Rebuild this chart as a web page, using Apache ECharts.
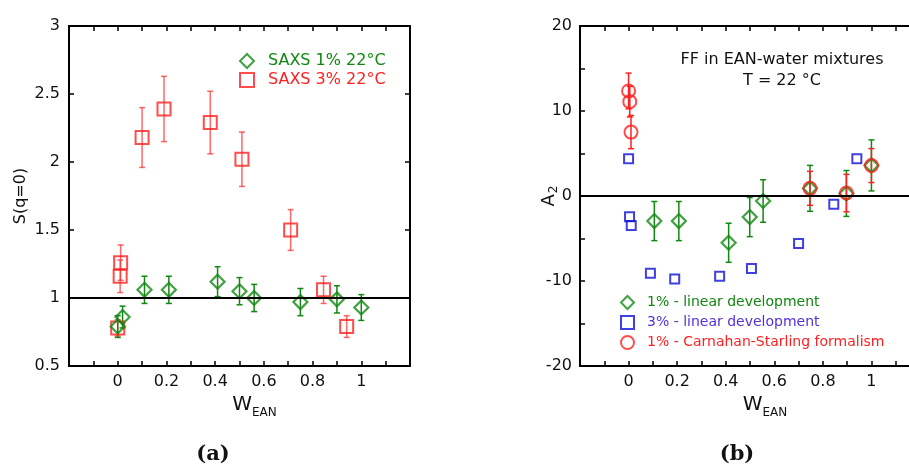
<!DOCTYPE html>
<html><head><meta charset="utf-8">
<script src="https://cdn.jsdelivr.net/npm/echarts@6/dist/echarts.min.js"></script>
<style>html,body{margin:0;padding:0;background:#fff}#c{width:909px;height:467px}</style>
</head><body><div id="c"></div>
<script>
// ---- Panel (a): S(q=0) vs W_EAN ----
const xTicks = [0, 0.2, 0.4, 0.6, 0.8, 1];
const saxs1W = [0.00, 0.02, 0.11, 0.21, 0.41, 0.50, 0.56, 0.75, 0.90, 1.00];
const saxs1S = [0.79, 0.86, 1.06, 1.06, 1.12, 1.05, 1.00, 0.97, 0.99, 0.93];
const saxs1E = [0.08, 0.08, 0.10, 0.10, 0.11, 0.10, 0.10, 0.10, 0.10, 0.095];
const saxs3W = [0.00, 0.01, 0.012, 0.10, 0.19, 0.38, 0.51, 0.71, 0.845, 0.94];
const saxs3S = [0.78, 1.16, 1.26, 2.18, 2.39, 2.29, 2.02, 1.50, 1.06, 0.79];
const saxs3E = [0.06, 0.12, 0.13, 0.22, 0.24, 0.23, 0.20, 0.15, 0.10, 0.08];

// ---- Panel (b): A2 vs W_EAN ----
const lin1W = [0.106, 0.207, 0.412, 0.499, 0.554, 0.747, 0.897, 1.00];
const lin1A = [-2.95, -2.95, -5.5, -2.48, -0.59, 0.9, 0.3, 3.6];
const lin1E = [2.3, 2.3, 2.3, 2.3, 2.5, 2.7, 2.7, 3.0];
const lin3W = [0.00, 0.004, 0.011, 0.09, 0.19, 0.375, 0.506, 0.70, 0.845, 0.94];
const lin3A = [4.37, -2.44, -3.46, -9.1, -9.76, -9.45, -8.54, -5.6, -0.98, 4.37];
const csW = [0.00, 0.005, 0.01, 0.747, 0.897, 1.00];
const csA = [12.36, 11.1, 7.52, 0.9, 0.35, 3.58];
const csE = [2.1, 1.8, 1.95, 2.0, 2.2, 2.0];

const GREEN = '#118811', RED = '#ff1f1f', BLUE = '#1010d8', BLUETXT = '#5530e0';
const FONT = 'DejaVu Sans';

function pts(W, V) { return W.map((w, i) => [w, V[i]]); }
function errSeries(xi, yi, W, V, E, color) {
  return {
    type: 'custom', xAxisIndex: xi, yAxisIndex: yi, silent: true, z: 1,
    data: W.map((w, i) => [w, V[i] - E[i], V[i] + E[i]]),
    encode: { x: 0, y: [1, 2] },
    renderItem: (params, api) => {
      const lo = api.coord([api.value(0), api.value(1)]);
      const hi = api.coord([api.value(0), api.value(2)]);
      const st = { stroke: color, lineWidth: 1.5 };
      const c = 3;
      return { type: 'group', children: [
        { type: 'line', shape: { x1: lo[0], y1: lo[1], x2: hi[0], y2: hi[1] }, style: st },
        { type: 'line', shape: { x1: lo[0] - c, y1: lo[1], x2: lo[0] + c, y2: lo[1] }, style: st },
        { type: 'line', shape: { x1: hi[0] - c, y1: hi[1], x2: hi[0] + c, y2: hi[1] }, style: st }
      ]};
    }
  };
}
function xLabel(v) {
  const r = Math.round(v * 10) / 10;
  return xTicks.some(t => Math.abs(t - r) < 1e-9) ? String(r) : '';
}
const axLine = { show: true, onZero: false, lineStyle: { color: '#000', width: 2 } };
const tick = { show: true, inside: true, length: 5, lineStyle: { color: '#000', width: 1.5 } };
const lbl = { color: '#111', fontFamily: FONT, fontSize: 16 };
function xAx(grid, pos, show) {
  return { type: 'value', gridIndex: grid, position: pos, min: -0.2, max: 1.2, interval: 0.1,
    axisLine: axLine, axisTick: tick, splitLine: { show: false },
    axisLabel: show ? Object.assign({ margin: 8, formatter: xLabel }, lbl) : { show: false },
    name: show ? '{w|W}{s|EAN}' : '', nameLocation: 'middle', nameGap: 21,
    nameTextStyle: { padding: [0, 0, 0, 30], rich: { w: { fontSize: 20, fontFamily: FONT, color: '#111' },
      s: { fontSize: 12, fontFamily: FONT, color: '#111', padding: [16, 0, 0, 0] } } } };
}
const subRich = { a: { fontSize: 18, fontFamily: FONT, color: '#111' }, s: { fontSize: 12, fontFamily: FONT, color: '#111', padding: [10, 0, 0, 1] } };

const option = {
  backgroundColor: '#fff',
  animation: false,
  textStyle: { fontFamily: FONT },
  grid: [
    { left: 69, top: 26, width: 341, height: 340, outerBoundsMode: 'none' },
    { left: 580, top: 26, width: 340, height: 340, outerBoundsMode: 'none' }
  ],
  xAxis: [xAx(0, 'bottom', true), xAx(0, 'top', false), xAx(1, 'bottom', true), xAx(1, 'top', false)],
  yAxis: [
    { type: 'value', gridIndex: 0, position: 'left', min: 0.5, max: 3, interval: 0.5,
      axisLine: axLine, axisTick: tick, splitLine: { show: false },
      axisLabel: Object.assign({ margin: 9 }, lbl),
      name: 'S(q=0)', nameLocation: 'middle', nameGap: 40,
      nameTextStyle: { fontSize: 16, fontFamily: FONT, color: '#111' } },
    { type: 'value', gridIndex: 0, position: 'right', min: 0.5, max: 3, interval: 0.5,
      axisLine: axLine, axisTick: tick, splitLine: { show: false }, axisLabel: { show: false } },
    { type: 'value', gridIndex: 1, position: 'left', min: -20, max: 20, interval: 5,
      axisLine: axLine, axisTick: tick, splitLine: { show: false },
      axisLabel: Object.assign({ margin: 8, formatter: v => (v % 10 === 0 ? String(v) : '') }, lbl),
      name: '{a|A}{s|2}', nameLocation: 'middle', nameGap: 20, nameMoveOverlap: false,
      nameTextStyle: { rich: subRich } },
    { type: 'value', gridIndex: 1, position: 'right', min: -20, max: 20, interval: 5,
      axisLine: axLine, axisTick: tick, splitLine: { show: false }, axisLabel: { show: false } }
  ],
  legend: [
    { orient: 'vertical', left: 239, top: 53, padding: 0, itemWidth: 14, itemHeight: 14, itemGap: 3,
      textStyle: { fontFamily: FONT, fontSize: 16, lineHeight: 14, padding: [0, 0, 0, 9] },
      data: [ { name: 'SAXS 1% 22°C', textStyle: { color: GREEN } },
              { name: 'SAXS 3% 22°C', textStyle: { color: RED } } ] },
    { orient: 'vertical', left: 620, top: 295, padding: 0, itemWidth: 13, itemHeight: 13, itemGap: 5,
      textStyle: { fontFamily: FONT, fontSize: 14, lineHeight: 13, padding: [0, 0, 0, 8] },
      data: [ { name: '1% - linear development', textStyle: { color: GREEN } },
              { name: '3% - linear development', textStyle: { color: BLUETXT } },
              { name: '1% - Carnahan-Starling formalism', textStyle: { color: RED } } ] }
  ],
  series: [
    errSeries(0, 0, saxs3W, saxs3S, saxs3E, 'rgba(255,40,40,0.7)'),
    errSeries(0, 0, saxs1W, saxs1S, saxs1E, GREEN),
    { name: 'SAXS 3% 22°C', type: 'scatter', xAxisIndex: 0, yAxisIndex: 0, z: 3,
      symbol: 'rect', symbolSize: 13, data: pts(saxs3W, saxs3S),
      itemStyle: { color: 'rgba(0,0,0,0)', borderColor: RED, borderWidth: 2 } },
    { name: 'SAXS 1% 22°C', type: 'scatter', xAxisIndex: 0, yAxisIndex: 0, z: 4,
      symbol: 'diamond', symbolSize: 14, data: pts(saxs1W, saxs1S),
      itemStyle: { color: 'rgba(0,0,0,0)', borderColor: GREEN, borderWidth: 2.2 },
      markLine: { silent: true, symbol: 'none', label: { show: false },
        lineStyle: { color: '#000', width: 2, type: 'solid' }, data: [{ yAxis: 1 }] } },
    errSeries(2, 2, lin1W, lin1A, lin1E, GREEN),
    errSeries(2, 2, csW, csA, csE, RED),
    { name: '1% - linear development', type: 'scatter', xAxisIndex: 2, yAxisIndex: 2, z: 3,
      symbol: 'diamond', symbolSize: 14, data: pts(lin1W, lin1A),
      itemStyle: { color: 'rgba(0,0,0,0)', borderColor: GREEN, borderWidth: 2.2 },
      markLine: { silent: true, symbol: 'none', label: { show: false },
        lineStyle: { color: '#000', width: 2, type: 'solid' }, data: [{ yAxis: 0 }] } },
    { name: '3% - linear development', type: 'scatter', xAxisIndex: 2, yAxisIndex: 2, z: 3,
      symbol: 'rect', symbolSize: 9, data: pts(lin3W, lin3A),
      itemStyle: { color: 'rgba(0,0,0,0)', borderColor: BLUE, borderWidth: 2 } },
    { name: '1% - Carnahan-Starling formalism', type: 'scatter', xAxisIndex: 2, yAxisIndex: 2, z: 4,
      symbol: 'circle', symbolSize: 13, data: pts(csW, csA),
      itemStyle: { color: 'rgba(0,0,0,0)', borderColor: RED, borderWidth: 2 } }
  ],
  graphic: [
    { type: 'text', x: 782, y: 60, style: { text: 'FF in EAN-water mixtures', fill: '#111',
      font: '16px "DejaVu Sans"', textAlign: 'center', textVerticalAlign: 'middle' } },
    { type: 'text', x: 782, y: 81, style: { text: 'T = 22 °C', fill: '#111',
      font: '16px "DejaVu Sans"', textAlign: 'center', textVerticalAlign: 'middle' } },
    { type: 'text', x: 213, y: 455, style: { text: '(a)', fill: '#111',
      font: 'bold 21px "DejaVu Serif"', textAlign: 'center', textVerticalAlign: 'middle' } },
    { type: 'text', x: 737, y: 455, style: { text: '(b)', fill: '#111',
      font: 'bold 21px "DejaVu Serif"', textAlign: 'center', textVerticalAlign: 'middle' } }
  ]
};
echarts.init(document.getElementById('c')).setOption(option);
</script></body></html>
